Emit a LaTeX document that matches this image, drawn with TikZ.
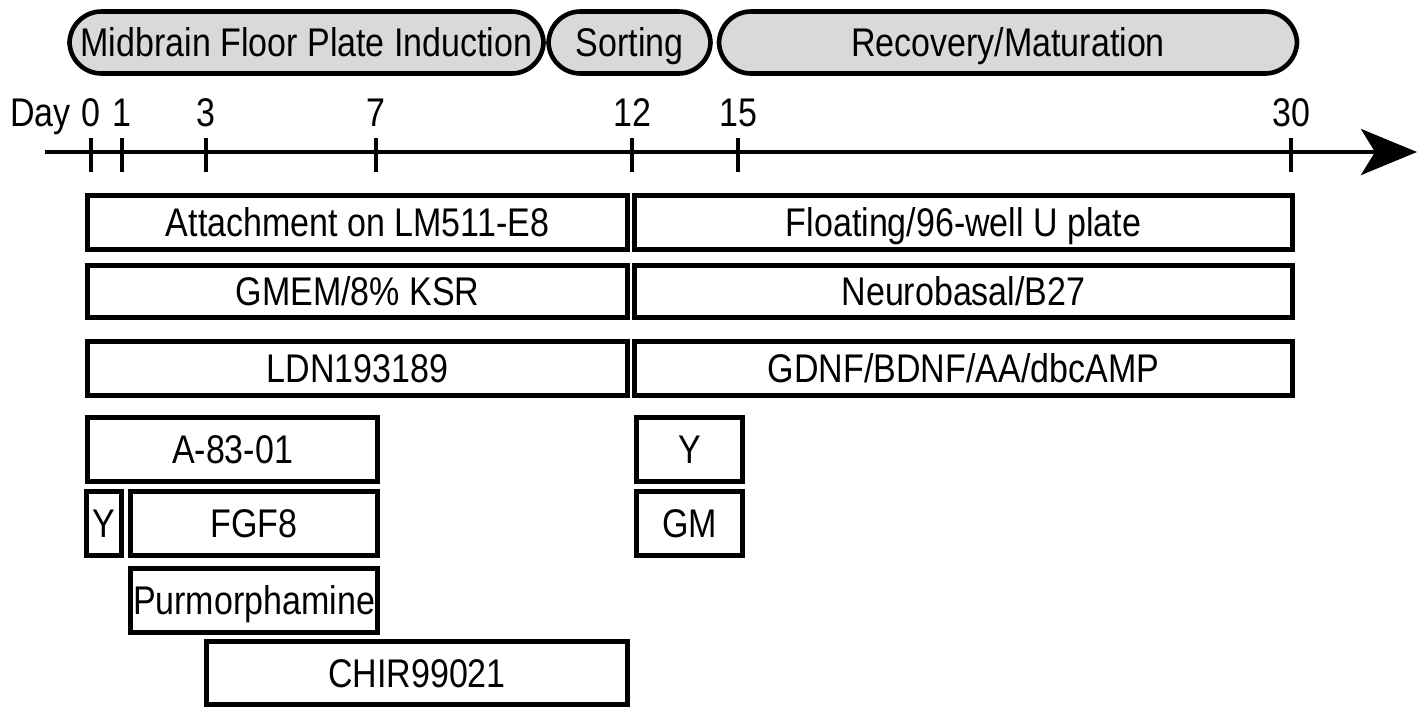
\documentclass[tikz,border=0pt]{standalone}
\usepackage{fontspec}
\setmainfont[FakeStretch=0.85]{Liberation Sans}
\usetikzlibrary{positioning,arrows.meta}
\definecolor{phaseclr}{rgb}{0.85, 0.85, 0.85}
\tikzset{ %
  ,>={Stealth[length=28pt, width=23pt, inset=7pt]}
  ,every node/.style={font=\fontsize{20}{23}\selectfont}
  ,phase/.style={draw, line width=2.3pt, rounded corners=16pt, fill=phaseclr, minimum height=31pt, inner sep=0, text height=14.4pt, text depth=0pt}
  ,bar/.style={draw, line width=2.1pt, inner sep=0, text height=14.4pt, text depth=0pt}
  ,tick/.style={line width=2.1pt}
  ,daylbl/.style={inner sep=1pt, anchor=south}
}
\begin{document}
\begin{tikzpicture}[x=0.5pt, y=-0.5pt]
      \useasboundingbox (0,0) rectangle (1427,709);
      % phases
      \node[phase, minimum width=237pt] (induct) at (306.5,42.5) {Midbrain Floor Plate Induction};
      \node[phase, minimum width=81pt] (sort) at (629.5,42.5) {Sorting};
      \node[phase, minimum width=289pt] (recov) at (1008,42.5) {Recovery/Maturation};
      % time axis
      \coordinate (t0) at (45,152);
      \coordinate (t1) at (1417,152);
      \draw [line width=2.1pt,->] (t0) -- (t1);
      \foreach \d/\x in {0/91,1/122,3/206,7/376,12/632,15/738,30/1291} {
        \draw [tick] (\x,138) -- (\x,172);
        \node[daylbl] (d\d) at (\x,129) {\d};
      }
      \node[anchor=base east, inner sep=1pt] (day) at ([xshift=-3pt]d0.base west) {Day};
      % culture conditions
      \node[bar, minimum width=270pt, minimum height=27pt] (attach) at (357.5,222.5) {Attachment on LM511-E8};
      \node[bar, minimum width=329pt, minimum height=27pt] (float) at (963.5,222.5) {Floating/96-well U plate};
      \node[bar, minimum width=270pt, minimum height=26pt] (gmem) at (357.5,291.5) {GMEM/8\% KSR};
      \node[bar, minimum width=329pt, minimum height=26pt] (neuro) at (963.5,291.5) {Neurobasal/B27};
      \node[bar, minimum width=270pt, minimum height=27pt] (ldn) at (357.5,368.5) {LDN193189};
      \node[bar, minimum width=329pt, minimum height=27pt] (gdnf) at (963.5,368.5) {GDNF/BDNF/AA/dbcAMP};
      \node[bar, minimum width=145pt, minimum height=32pt] (a83) at (232.5,449.5) {A-83-01};
      \node[bar, minimum width=53pt, minimum height=32pt] (ylate) at (689.5,449.5) {Y};
      \node[bar, minimum width=17.5pt, minimum height=32pt] (yearly) at (104,523.5) {Y};
      \node[bar, minimum width=123.5pt, minimum height=32pt] (fgf) at (254,523.5) {FGF8};
      \node[bar, minimum width=53pt, minimum height=32pt] (gm) at (689.5,523.5) {GM};
      \node[bar, minimum width=123.5pt, minimum height=32pt] (purmo) at (254,600.5) {Purmorphamine};
      \node[bar, minimum width=210.5pt, minimum height=31.5pt] (chir) at (417,673) {CHIR99021};
    \end{tikzpicture}
\end{document}
